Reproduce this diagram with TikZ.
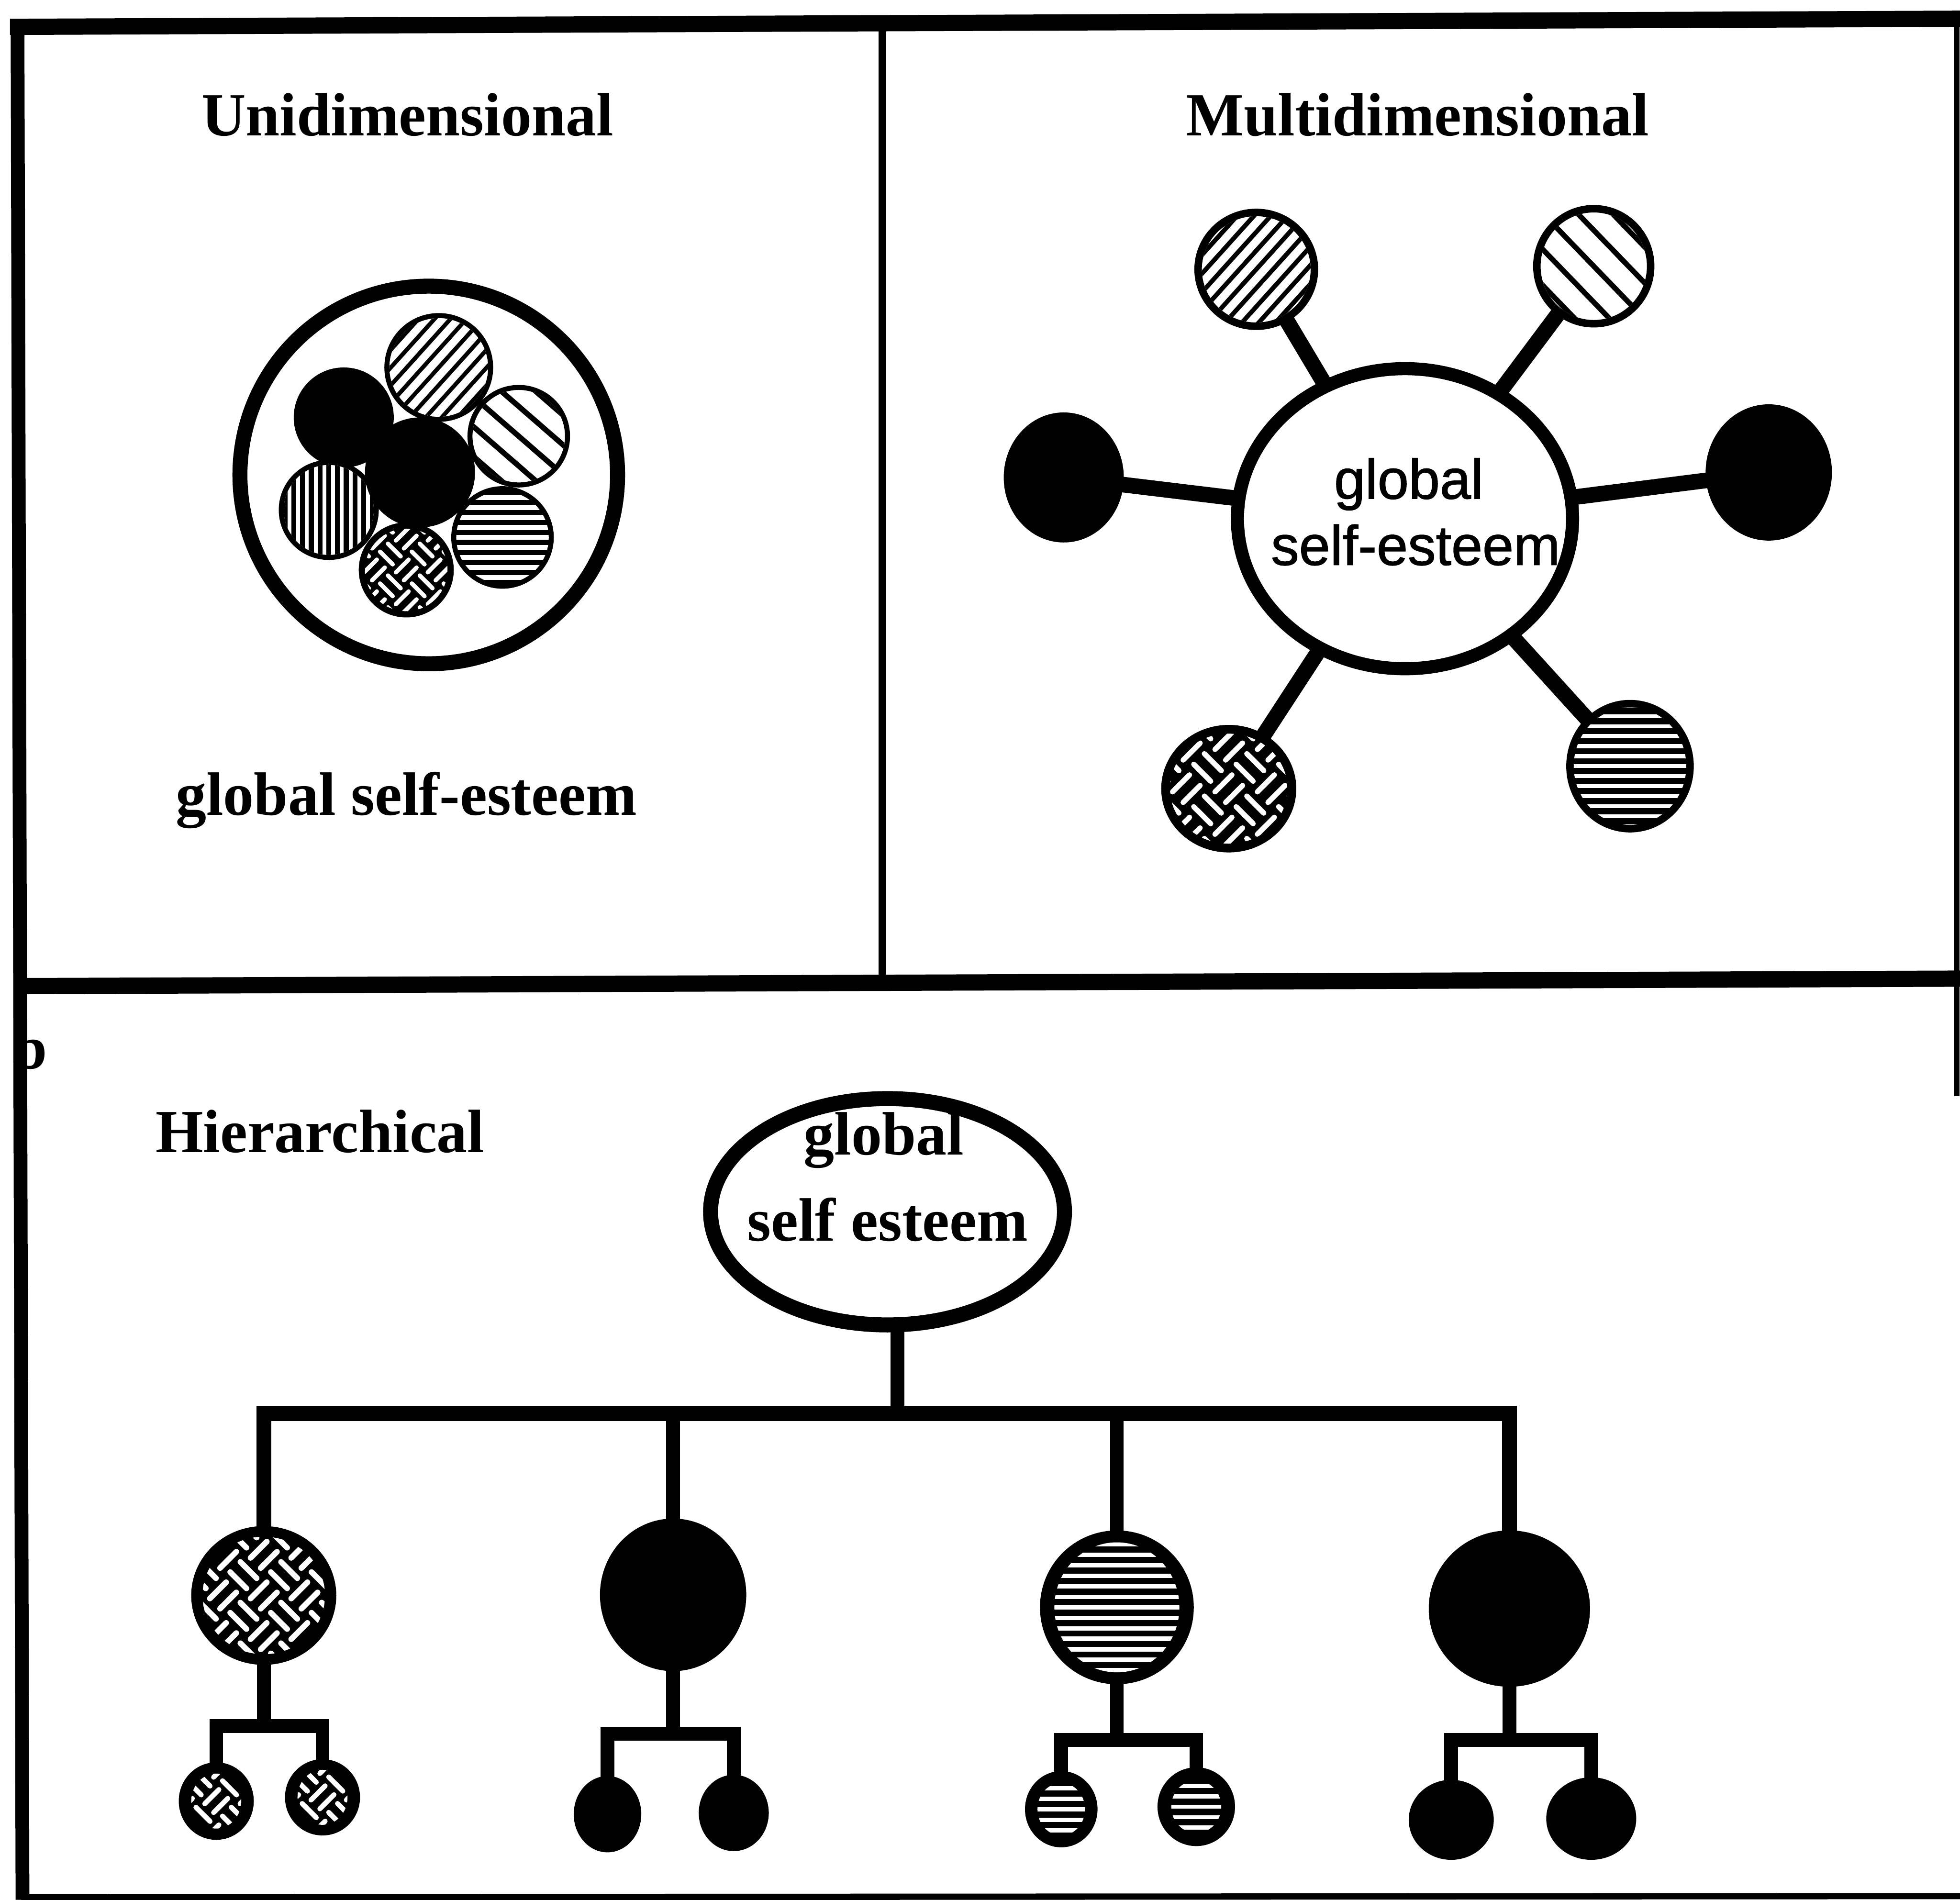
\documentclass[tikz,border=0pt]{standalone}
\usepackage{fontspec}
\usetikzlibrary{shapes.geometric,backgrounds,calc}
\newfontfamily\labfont{Liberation Serif}
\newfontfamily\sanslab{Liberation Sans}[FakeBold=1.2]
% one drawing unit
\def\pu{0.4695pt}

% parallel stripes clipped to an ellipse around a node
% #1 node, #2 x radius, #3 y radius, #4 angle, #5 spacing, #6 stroke width, #7 colour
\newcommand{\hatch}[7]{%
  \begin{scope}
    \clip (#1.center) ellipse [x radius=#2, y radius=#3];
    \begin{scope}[shift={(#1.center)}, rotate=#4]
      \foreach \k in {-16,...,16}
        \draw[#7, line width=#6*\pu] (-220,{\k*#5}) -- (220,{\k*#5});
    \end{scope}
  \end{scope}}

% basket-weave of white bars clipped to an ellipse around a node
% #1 node, #2 x radius, #3 y radius, #4 half cell, #5 bar width
\newcommand{\weave}[5]{%
  \begin{scope}
    \clip (#1.center) ellipse [x radius=#2, y radius=#3];
    \begin{scope}[shift={(#1.center)}, rotate=45]
      \foreach \i in {-5,...,5}{
        \foreach \j in {-5,...,5}{
          \pgfmathtruncatemacro\wpar{mod(\i+\j+20,2)}
          \ifnum\wpar=0
            \draw[white, line width=#5*\pu, line cap=round]
              ({2*#4*(\i)-0.8*#4},{2*#4*(\j)-0.5*#4}) -- ++({1.6*#4},0)
              ({2*#4*(\i)-0.8*#4},{2*#4*(\j)+0.5*#4}) -- ++({1.6*#4},0);
          \else
            \draw[white, line width=#5*\pu, line cap=round]
              ({2*#4*(\i)-0.5*#4},{2*#4*(\j)-0.8*#4}) -- ++(0,{1.6*#4})
              ({2*#4*(\i)+0.5*#4},{2*#4*(\j)-0.8*#4}) -- ++(0,{1.6*#4});
          \fi
        }}
    \end{scope}
  \end{scope}}

\tikzset{
  lab/.style={font=\labfont\bfseries\fontsize{23}{27}\selectfont, inner sep=0pt, anchor=base},
  sanstext/.style={font=\sanslab\fontsize{21}{25}\selectfont, inner sep=0pt, anchor=base},
  frameline/.style={line width=#1*\pu},
  blob/.style n args={2}{shape=ellipse, inner sep=0pt, minimum width=2*#1*\pu, minimum height=2*#2*\pu},
  ring/.style={draw=black, fill=white, line width=#1*\pu},
  solid/.style={fill=black, draw=none},
  spoke/.style={line width=12.5*\pu, shorten <=-8pt, shorten >=-8pt},
  trunk/.style={line width=#1*\pu, line join=miter},
}

\begin{document}
\begin{tikzpicture}[x=0.0165cm, y=-0.0165cm]
\useasboundingbox (0,0) rectangle (1568,1520);
\begin{scope}[on background layer]
  \fill[white] (0,0) rectangle (1568,1520);
\end{scope}

% ---------- unidimensional ----------
\node[lab] (t1) at (326,108.6) {Unidimensional};
\node[blob={151}{151}, ring=12] (u0) at (343,380) {};
\node[blob={40}{40}, solid] (ub1) at (275,334) {};
\node[blob={38}{38}, ring=4] (uv) at (263,408) {};
\hatch{uv}{36}{36}{90}{7}{4}{black}
\node[blob={44}{44}, solid] (ub2) at (336,378) {};
\node[blob={41.5}{41.5}, ring=4] (ud) at (351,294) {};
\hatch{ud}{39.5}{39.5}{48}{9.5}{3.3}{black}
\node[blob={39}{39}, ring=4] (ur) at (415,349) {};
\hatch{ur}{37}{37}{-41}{18}{4.3}{black}
\node[blob={41}{41}, solid] (uh) at (402,430) {};
\hatch{uh}{37}{37}{0}{8}{4}{white}
\node[blob={38}{38}, solid] (uw) at (325,456) {};
\weave{uw}{33}{33}{9}{3.4}
\node[lab] (ug) at (325,652) {global self-esteem};

% ---------- multidimensional ----------
\node[lab] (t2) at (1134,108.6) {Multidimensional};
\node[blob={134}{120}, ring=10.5] (mc) at (1124,415) {};
\node[sanstext] (mg1) at (1127,399) {global};
\node[sanstext] (mg2) at (1132.5,452) {self-esteem};
\node[blob={46.5}{45.5}, ring=6] (m1) at (1005,215.5) {};
\hatch{m1}{43.5}{42.5}{48}{10}{3.6}{black}
\node[blob={45.5}{46}, ring=6] (m2) at (1275,213) {};
\hatch{m2}{42.5}{43}{-46}{20}{4.2}{black}
\node[blob={48}{52}, solid] (m3) at (851,382) {};
\node[blob={50.5}{54.5}, solid] (m4) at (1415,378) {};
\node[blob={54}{51}, solid] (m5) at (983,631) {};
\weave{m5}{47}{44}{12}{4.2}
\node[blob={51}{53}, solid] (m6) at (1304,613) {};
\hatch{m6}{45}{47}{0}{8}{3.2}{white}
\begin{scope}[on background layer]
  \foreach \s in {m1,m2,m3,m4,m5,m6}
    \draw[spoke] (\s) -- (mc);
\end{scope}

% ---------- hierarchical ----------
\node[lab, anchor=base west] (pb) at (10,855) {b};
\node[lab] (t3) at (256,922) {Hierarchical};
\node[blob={141.5}{90.5}, ring=12] (g) at (710,969.5) {};
\node[lab] (gg1) at (707,924) {global};
\node[lab] (gg2) at (710,993) {self esteem};

\node[blob={58}{55.5}, solid] (c1) at (211,1276.5) {};
\weave{c1}{49}{47}{11.5}{4.5}
\node[blob={58.5}{61}, solid] (c2) at (538.5,1276) {};
\node[blob={61.5}{61.5}, solid] (c3) at (893.5,1286) {};
\hatch{c3}{50}{52}{0}{8.4}{3.6}{white}
\node[blob={64.5}{62.5}, solid] (c4) at (1207.5,1287) {};

\node[blob={30}{31}, solid] (c1a) at (173,1441) {};
\weave{c1a}{20}{22}{10}{4}
\node[blob={30}{30.5}, solid] (c1b) at (258,1438) {};
\weave{c1b}{20}{22}{10}{4}
\node[blob={27}{30.5}, solid] (c2a) at (486,1451.5) {};
\node[blob={28}{30.5}, solid] (c2b) at (587,1450.5) {};
\node[blob={29}{30.5}, solid] (c3a) at (849,1447.5) {};
\hatch{c3a}{19}{21}{0}{8.4}{3.4}{white}
\node[blob={31}{31.5}, solid] (c3b) at (957,1445.5) {};
\hatch{c3b}{20}{21}{0}{8.4}{3.4}{white}
\node[blob={34}{32}, solid] (c4a) at (1161,1456) {};
\node[blob={36}{33}, solid] (c4b) at (1273,1455) {};

\coordinate (busy) at (0,1131);
\coordinate (gs) at ([xshift=8*\pu]g.center);
\coordinate (sb1) at (0,1381);
\coordinate (sb2) at (0,1387);
\coordinate (sb3) at (0,1392);
\coordinate (sb4) at (0,1392);
\begin{scope}[on background layer]
  \draw[trunk=12] (c1.center) -- (c1.center |- busy) -- (c4.center |- busy) -- (c4.center);
  \draw[trunk=11] (c2.center) -- (c2.center |- busy);
  \draw[trunk=11] (c3.center) -- (c3.center |- busy);
  \draw[trunk=11] (gs) -- (gs |- busy);
  \draw[trunk=11] (c1a.center) -- (c1a.center |- sb1) -- (c1b.center |- sb1) -- (c1b.center);
  \draw[trunk=11] (c1.center) -- (c1.center |- sb1);
  \draw[trunk=11] (c2a.center) -- (c2a.center |- sb2) -- (c2b.center |- sb2) -- (c2b.center);
  \draw[trunk=11] (c2.center) -- (c2.center |- sb2);
  \draw[trunk=11] (c3a.center) -- (c3a.center |- sb3) -- (c3b.center |- sb3) -- (c3b.center);
  \draw[trunk=11] (c3.center) -- (c3.center |- sb3);
  \draw[trunk=11] (c4a.center) -- (c4a.center |- sb4) -- (c4b.center |- sb4) -- (c4b.center);
  \draw[trunk=11] (c4.center) -- (c4.center |- sb4);
\end{scope}

% ---------- panel frame ----------
\draw[frameline=13] (8,21.5) -- (1568,15);
\draw[frameline=11] (14,15) -- (18,1520);
\draw[frameline=6] (706,18) -- (706,786);
\draw[frameline=13] (14,789) -- (1568,783);
\draw[frameline=4] (1565.5,15) -- (1565.5,877);
\draw[frameline=5] (17,1518) -- (1568,1517);
\end{tikzpicture}
\end{document}
